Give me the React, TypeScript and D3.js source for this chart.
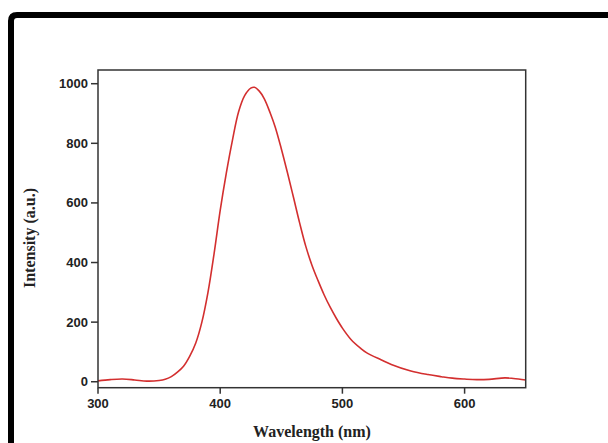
import React from "react";
import * as d3 from "d3";

const wavelengths = [300,310,320,330,340,350,355,360,365,370,375,380,385,390,395,400,405,410,415,420,425,428,432,436,441,445,450,455,460,465,470,475,480,485,490,495,500,507,515,520,532,540,556,570,581,590,600,610,620,633,640,650];
const intensity = [3,7,9,6,2,4,8,17,32,52,85,130,200,300,430,575,700,810,905,960,985,988,975,950,901,855,782,702,618,533,455,392,340,292,250,213,180,142,112,97,73,58,36,24,17,12,9,7,8,13,11,6];
const xTicks = [300,400,500,600];
const yTicks = [0,200,400,600,800,1000];
const xTitle = "Wavelength (nm)";
const yTitle = "Intensity (a.u.)";

export default function App() {
  const W = 608, H = 443;
  const L = 98, R = 525.7, T = 70, B = 387.7;
  const x = d3.scaleLinear().domain([300, 650]).range([L, R]);
  const y = d3.scaleLinear().domain([-20, 1046]).range([B, T]);
  const data = wavelengths.map((w, i) => [w, intensity[i]] as [number, number]);
  const line = d3.line<[number, number]>().x(d => x(d[0])).y(d => y(d[1])).curve(d3.curveCatmullRom.alpha(0.5));
  const axisColor = "#333";
  return (
    <svg width={W} height={H} style={{ position: "absolute", left: 0, top: 0, background: "#fff" }}>
      <rect x={0} y={0} width={W} height={H} fill="#fff" />
      <path d={`M11,${H} L11,21 Q11,15 17,15 L${W},15`} fill="none" stroke="#000" strokeWidth={6} />
      <path d={line(data) ?? ""} fill="none" stroke="#d32f2f" strokeWidth={1.6} />
      <rect x={L} y={T} width={R - L} height={B - T} fill="none" stroke={axisColor} strokeWidth={1.5} />
      {xTicks.map(t => (
        <g key={"x" + t}>
          <line x1={x(t)} x2={x(t)} y1={B} y2={B + 6} stroke={axisColor} strokeWidth={1.5} />
          <text x={x(t)} y={B + 20} textAnchor="middle" fontFamily="Liberation Sans, Arial, sans-serif" fontWeight="bold" fontSize={13} fill="#222">{t}</text>
        </g>
      ))}
      {yTicks.map(t => (
        <g key={"y" + t}>
          <line x1={L - 7} x2={L} y1={y(t)} y2={y(t)} stroke={axisColor} strokeWidth={1.5} />
          <text x={L - 10} y={y(t) + 4.5} textAnchor="end" fontFamily="Liberation Sans, Arial, sans-serif" fontWeight="bold" fontSize={13} fill="#222">{t}</text>
        </g>
      ))}
      <text x={312} y={437} textAnchor="middle" fontFamily="Liberation Serif, Times New Roman, serif" fontWeight="bold" fontSize={16} fill="#222">{xTitle}</text>
      <text transform={`translate(35,238) rotate(-90)`} textAnchor="middle" fontFamily="Liberation Serif, Times New Roman, serif" fontWeight="bold" fontSize={16} fill="#222">{yTitle}</text>
    </svg>
  );
}
